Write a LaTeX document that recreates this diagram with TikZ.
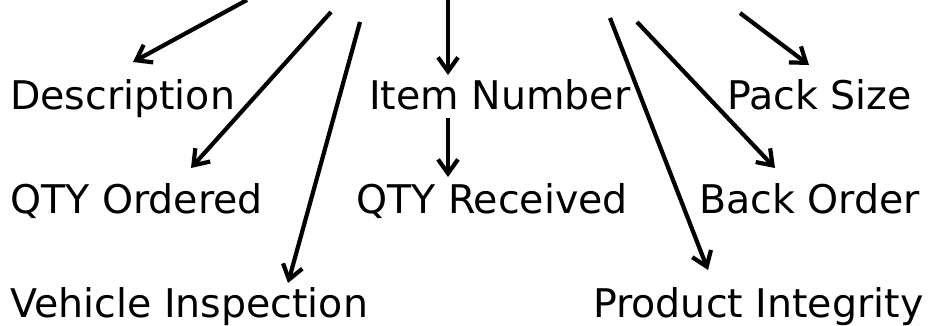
\documentclass[tikz,border=0pt]{standalone}
\usepackage{fontspec}
\setmainfont{DejaVu Sans}
\usetikzlibrary{arrows.meta}
\begin{document}
\begin{tikzpicture}[x=1pt,y=-1pt,
  lbl/.style={anchor=base west,inner sep=0pt,font=\fontsize{39.5}{42}\selectfont},
  conn/.style={line width=4.2pt,-{Straight Barb[length=14pt,width=20pt]}}]
\useasboundingbox (0,0) rectangle (933,326);
\node[lbl] (desc) at (10,110) {Description};
\node[lbl] (item) at (369,110) {Item Number};
\node[lbl] (pack) at (727,110) {Pack Size};
\node[lbl] (qtyo) at (10,213) {QTY Ordered};
\node[lbl] (qtyr) at (356,213) {QTY Received};
\node[lbl] (back) at (699,213) {Back Order};
\node[lbl] (veh) at (10,317) {Vehicle Inspection};
\node[lbl] (prod) at (593,317) {Product Integrity};
% free start points
\coordinate (s1) at (247,0);
\coordinate (s2) at (331,12);
\coordinate (s3) at (360,22);
\coordinate (s4) at (448,0);
\coordinate (s6) at (610,18);
\coordinate (s7) at (637,22);
\coordinate (s8) at (740,13);
% arrow tips
\coordinate (e1) at (133,62);
\coordinate (e2) at (191,168);
\coordinate (e3) at (288,283);
\coordinate (e4) at (448,75);
\coordinate (s5) at (448,118);
\coordinate (e5) at (448,177);
\coordinate (e6) at (708,270);
\coordinate (e7) at (775,168);
\coordinate (e8) at (809,65);
\draw[conn] (s1) -- (e1);
\draw[conn] (s2) -- (e2);
\draw[conn] (s3) -- (e3);
\draw[conn] (s4) -- (e4);
\draw[conn] (s5) -- (e5);
\draw[conn] (s6) -- (e6);
\draw[conn] (s7) -- (e7);
\draw[conn] (s8) -- (e8);
\end{tikzpicture}
\end{document}
